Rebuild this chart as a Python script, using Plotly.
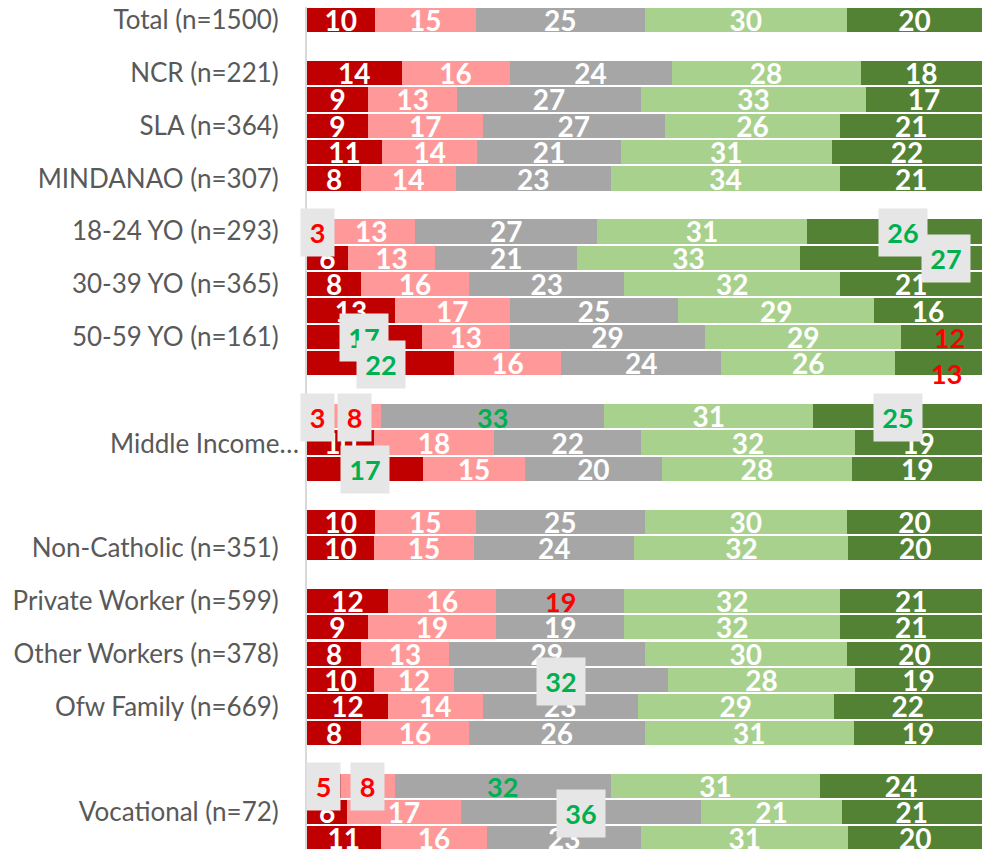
import plotly.graph_objects as go

# ---------------- data ----------------
categories = [
    "Total (n=1500)", "gap1", "NCR (n=221)", "NLA", "SLA (n=364)", "VISAYAS",
    "MINDANAO (n=307)", "gap2", "18-24 YO (n=293)", "25-29 YO", "30-39 YO (n=365)",
    "40-49 YO", "50-59 YO (n=161)", "60+ YO", "gap3", "Low Income",
    "Middle Income", "High Income", "gap4", "Catholic", "Non-Catholic (n=351)",
    "gap5", "Private Worker (n=599)", "Gov't Worker", "Other Workers (n=378)",
    "Not Working", "Ofw Family (n=669)", "Non-Ofw Family", "gap6", "Elementary",
    "Vocational (n=72)", "College",
]
shown_labels = [
    "Total (n=1500)", "NCR (n=221)", "SLA (n=364)", "MINDANAO (n=307)",
    "18-24 YO (n=293)", "30-39 YO (n=365)", "50-59 YO (n=161)",
    "Non-Catholic (n=351)", "Private Worker (n=599)", "Other Workers (n=378)",
    "Ofw Family (n=669)", "Vocational (n=72)",
]
truncated_label = ("Middle Income", "Middle Income…")

strongly_disagree = [10, None, 14, 9, 9, 11, 8, None, 3, 6, 8, 13, 17, 22, None, 3, 10, 17,
                     None, 10, 10, None, 12, 9, 8, 10, 12, 8, None, 5, 6, 11]
disagree = [15, None, 16, 13, 17, 14, 14, None, 13, 13, 16, 17, 13, 16, None, 8, 18, 15,
            None, 15, 15, None, 16, 19, 13, 12, 14, 16, None, 8, 17, 16]
neutral = [25, None, 24, 27, 27, 21, 23, None, 27, 21, 23, 25, 29, 24, None, 33, 22, 20,
           None, 25, 24, None, 19, 19, 29, 32, 23, 26, None, 32, 36, 23]
agree = [30, None, 28, 33, 26, 31, 34, None, 31, 33, 32, 29, 29, 26, None, 31, 32, 28,
         None, 30, 32, None, 32, 32, 30, 28, 29, 31, None, 31, 21, 31]
strongly_agree = [20, None, 18, 17, 21, 22, 21, None, 26, 27, 21, 16, 12, 13, None, 25, 19, 19,
                  None, 20, 20, None, 21, 21, 20, 19, 22, 19, None, 24, 21, 20]

series_names = ["Strongly disagree", "Disagree", "Neutral", "Agree", "Strongly agree"]
series_values = [strongly_disagree, disagree, neutral, agree, strongly_agree]
series_colors = ["#C00000", "#FF9999", "#A6A6A6", "#A9D18E", "#548235"]

# significance flags: (row category, series index, direction, boxed)
sig_flags = [
    ("18-24 YO (n=293)", 0, "low", True),
    ("18-24 YO (n=293)", 4, "high", True),
    ("25-29 YO", 4, "high", True),
    ("50-59 YO (n=161)", 0, "high", True),
    ("50-59 YO (n=161)", 4, "low", False),
    ("60+ YO", 0, "high", True),
    ("60+ YO", 4, "low", False),
    ("Low Income", 0, "low", True),
    ("Low Income", 1, "low", True),
    ("Low Income", 2, "high", False),
    ("Low Income", 4, "high", True),
    ("High Income", 0, "high", True),
    ("Private Worker (n=599)", 2, "low", False),
    ("Not Working", 2, "high", True),
    ("Elementary", 0, "low", True),
    ("Elementary", 1, "low", True),
    ("Elementary", 2, "high", False),
    ("Vocational (n=72)", 2, "high", True),
]
# manual label nudges (pixels) as in the reference
label_nudge = {("25-29 YO", 4): (55, 0), ("60+ YO", 4): (8, -9),
               ("50-59 YO (n=161)", 4): (8, 0), ("18-24 YO (n=293)", 4): (9, 0)}

FONT = "Lato"
sig_color = {"low": "#FF0000", "high": "#00B050"}
flag_set = {(r, s) for r, s, _, _ in sig_flags}

fig = go.Figure()
for si, (name, vals, col) in enumerate(zip(series_names, series_values, series_colors)):
    texts = []
    for cat, v in zip(categories, vals):
        if v is None or (cat, si) in flag_set:
            texts.append("")
        else:
            texts.append(str(v))
    fig.add_trace(go.Bar(
        y=categories, x=vals, name=name, orientation="h",
        marker=dict(color=col, line=dict(width=0)),
        text=texts, textposition="inside", insidetextanchor="middle",
        textangle=0, constraintext="none",
        textfont=dict(family=FONT, size=28, color="white", weight="bold"),
        hoverinfo="skip",
    ))

# significance annotations, placed at segment centres (normalised like barnorm)
annotations = []
for cat, si, direction, boxed in sig_flags:
    ri = categories.index(cat)
    row = [series_values[k][ri] for k in range(5)]
    total = sum(row)
    before = sum(row[:si])
    v = row[si]
    xc = (before + v / 2) / total * 100
    dx, dy = label_nudge.get((cat, si), (0, 0))
    ann = dict(x=xc, y=cat, xref="x", yref="y", text=str(v), showarrow=False,
               font=dict(family=FONT, size=27, color=sig_color[direction], weight="bold"),
               xshift=dx, yshift=dy - 1)
    if boxed:
        ann.update(bgcolor="#E6E6E6", borderpad=0, height=47,
                   width=33 if v < 10 else 48)
    annotations.append(ann)

annotations.append(dict(x=0, y=truncated_label[0], xref="paper", yref="y",
                        text=truncated_label[1], showarrow=False, xanchor="right",
                        xshift=-6, font=dict(family=FONT, size=26, color="#595959")))

fig.update_layout(
    width=982, height=849,
    margin=dict(l=307, r=0, t=7, b=0),
    barmode="stack", barnorm="percent", bargap=0.08,
    showlegend=False,
    plot_bgcolor="white", paper_bgcolor="white",
    uniformtext=dict(minsize=28, mode="show"),
    xaxis=dict(range=[0, 100], visible=False, fixedrange=True),
    yaxis=dict(categoryorder="array", categoryarray=categories,
               range=[31.4, -0.5], tickmode="array", tickvals=shown_labels,
               ticktext=shown_labels,
               showline=True, linecolor="#D9D9D9", linewidth=2, showgrid=False,
               ticks="", ticklabelstandoff=21, automargin=False, fixedrange=True,
               tickfont=dict(family=FONT, size=26, color="#595959")),
    annotations=annotations,
)

fig.write_html(
    "out.html",
    config={"displayModeBar": False},
    post_script=(
        "document.body.style.margin='0px';"
        "document.body.style.overflow='hidden';"
        "var gd=document.getElementById('{plot_id}');"
        "gd.style.width='982px';gd.style.height='849px';"
        "Plotly.relayout(gd,{width:982,height:849});"
    ),
)
